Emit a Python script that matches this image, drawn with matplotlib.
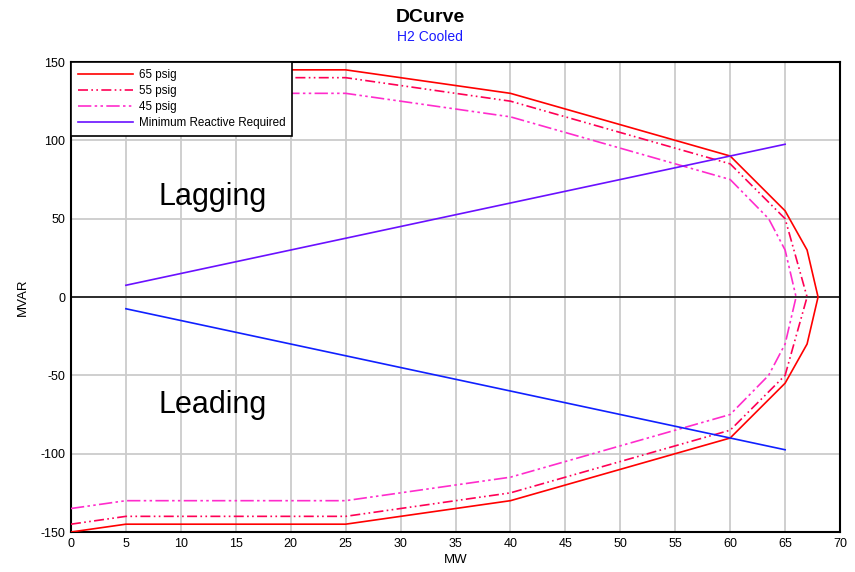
"""
Script plots the generator capability (D) curve for the H2 cooled unit
"""

### Import modules
import numpy as np
import matplotlib
matplotlib.use('Agg')
import matplotlib.pyplot as plt

### Data (MW, MVAR)
mw65 = [0,5,25,30,35,40,45,50,55,60,65,67,68,67,65,60,55,50,45,40,35,30,25,5,0]
mvar65 = [-150,-145,-145,-140,-135,-130,-120,-110,-100,-90,-55,-30,0,30,55,
          90,100,110,120,130,135,140,145,145,150]
mw55 = [0,5,25,30,35,40,45,50,55,60,65,67,65,60,55,50,45,40,35,30,25,5,0]
mvar55 = [-145,-140,-140,-135,-130,-125,-115,-105,-95,-85,-50,0,50,85,95,105,
          115,125,130,135,140,140,145]
mw45 = [0,5,25,30,35,40,45,50,55,60,63.5,65,66,65,63.5,60,55,50,45,40,35,30,
        25,5,0]
mvar45 = [-135,-130,-130,-125,-120,-115,-105,-95,-85,-75,-50,-30,0,30,50,75,
          85,95,105,115,120,125,130,130,135]
mwmin = [5,65]
mvarlag = [7.5,97.5]
mvarlead = [-7.5,-97.5]

xticks = np.arange(0,70+1,5)
yticks = np.arange(-150,150+1,50)

###############################################################################
### Plot figure
plt.rc('font',family=['Liberation Sans','DejaVu Sans'])
plt.rc('axes',unicode_minus=False)

fig = plt.figure(figsize=(8.55,5.72),dpi=100)
ax = fig.add_axes([0.083,0.0699,0.8995,0.8217])

ax.plot(mw65,mvar65,color='#ff0000',linewidth=1.2,label='65 psig',zorder=4)
ax.plot(mw55,mvar55,color='#ff0055',linewidth=1.2,
        linestyle=(0,(6,2,1,2,1,2)),label='55 psig',zorder=4)
ax.plot(mw45,mvar45,color='#ff2ccc',linewidth=1.2,
        linestyle=(0,(8,2,1.5,2,1.5,2)),label='45 psig',zorder=4)
ax.plot(mwmin,mvarlag,color='#6a10ff',linewidth=1.2,
        label='Minimum Reactive Required',zorder=4)
ax.plot(mwmin,mvarlead,color='#1020ff',linewidth=1.2,zorder=4)

ax.axhline(0,color='k',linewidth=1.1,zorder=3)

ax.set_xlim([0,70])
ax.set_ylim([-150,150])
ax.set_xticks(xticks)
ax.set_yticks(yticks)
ax.tick_params('both',length=0,labelsize=9,pad=4)
ax.grid(color='#cccccc',linewidth=1.3,zorder=1)
for spine in ax.spines.values():
    spine.set_linewidth(1.5)

ax.text(8,64,'Lagging',fontsize=22,va='center')
ax.text(8,-69,'Leading',fontsize=22,va='center')

ax.set_xlabel('MW',fontsize=9.5,labelpad=3)
ax.set_ylabel('MVAR',fontsize=9.5,labelpad=8)

fig.text(0.503,0.970,'DCurve',fontsize=14,fontweight='bold',
         ha='center',va='center')
fig.text(0.503,0.935,'H2 Cooled',fontsize=10,color='#1a1aff',
         ha='center',va='center')

le = ax.legend(loc='upper left',fontsize=8.4,fancybox=False,framealpha=1,
               borderpad=0.6,labelspacing=0.35,handlelength=4.7,
               handletextpad=0.5,borderaxespad=0)
le.get_frame().set_edgecolor('k')
le.get_frame().set_linewidth(1.2)
le.set_zorder(5)

plt.savefig('out.png',dpi=100)
